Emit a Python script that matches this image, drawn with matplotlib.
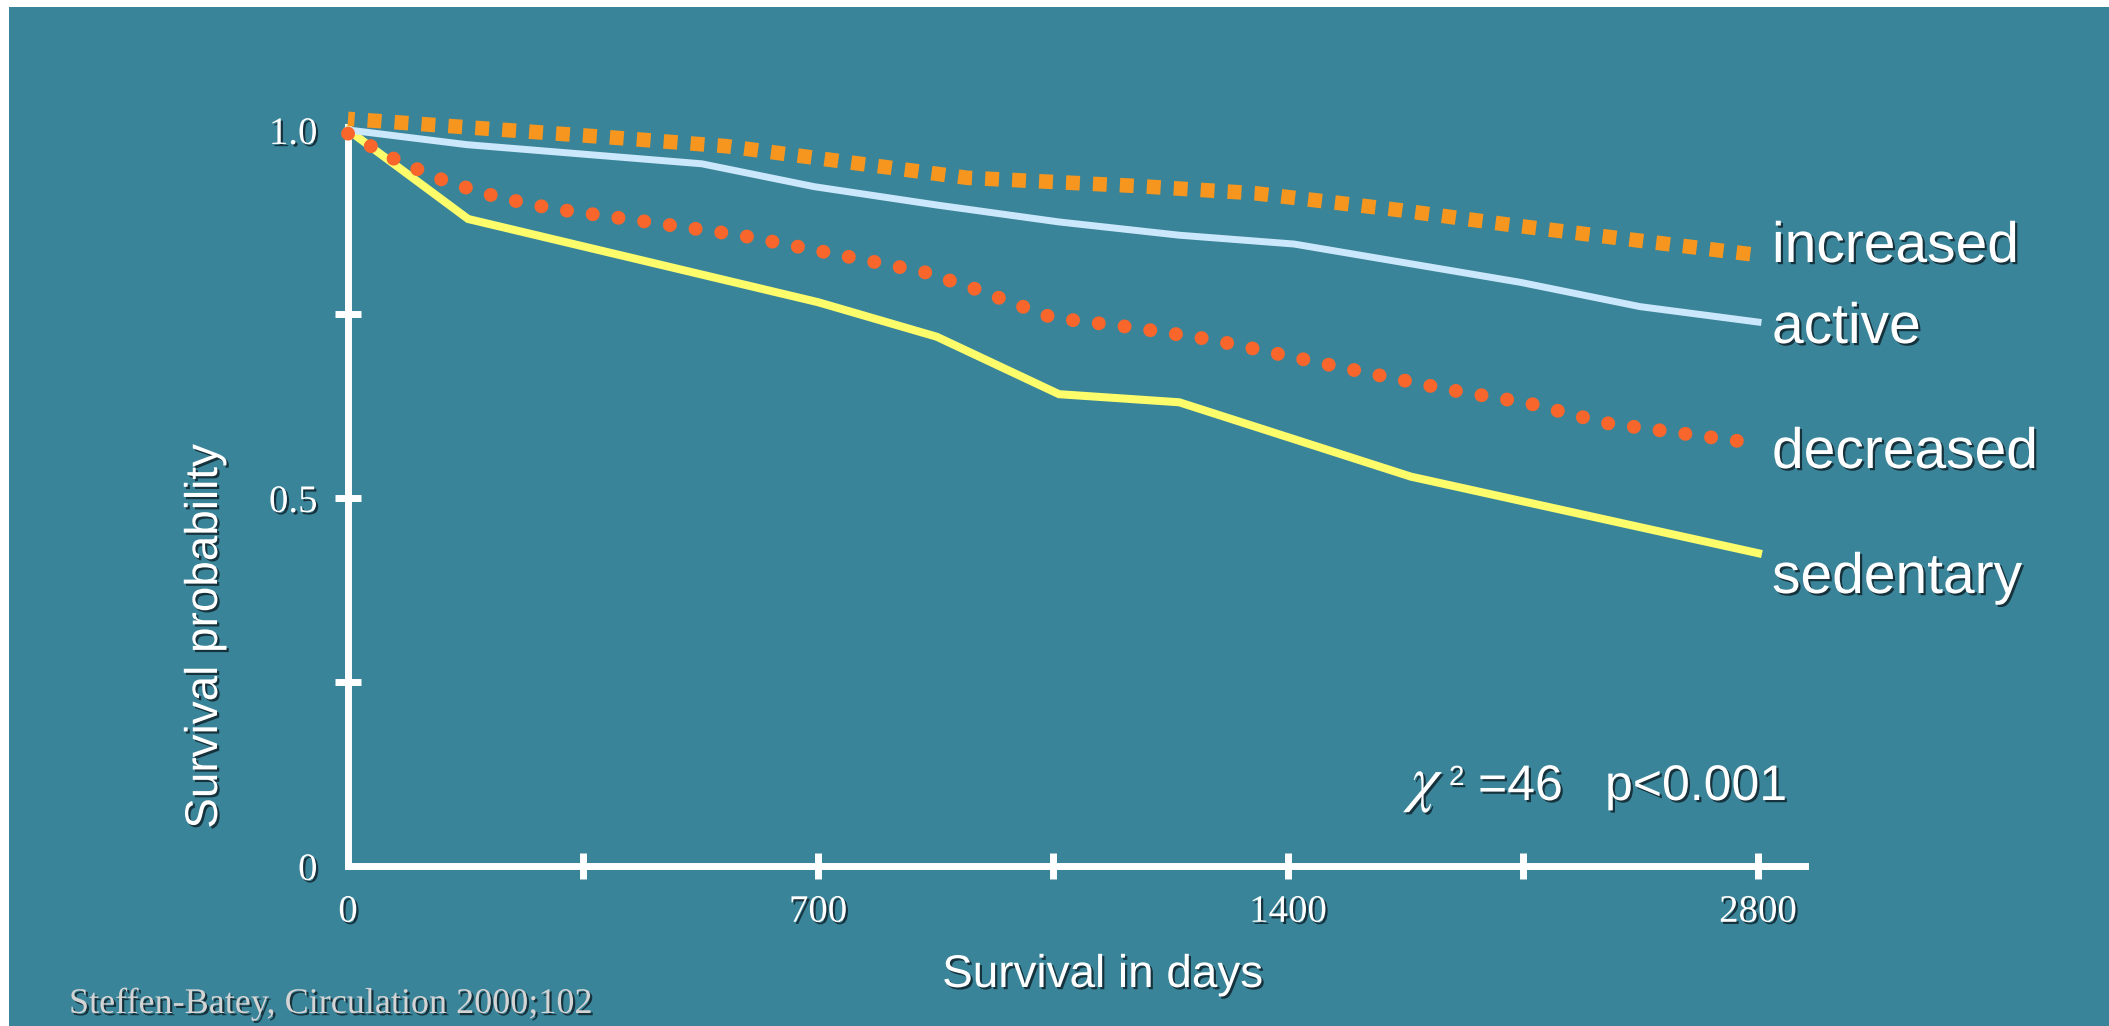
import matplotlib
matplotlib.use("Agg")
import matplotlib.pyplot as plt
import matplotlib.patheffects as pe
from matplotlib.patches import Rectangle

# ---- data: Kaplan-Meier style survival curves by physical-activity group ----
increased_days = [0, 390, 563, 922, 1172, 1351, 1567, 1731, 2100]
increased_surv = [1.015, 0.990, 0.978, 0.935, 0.924, 0.914, 0.891, 0.871, 0.830]

active_days = [0, 177, 527, 694, 877, 1059, 1238, 1409, 1746, 1924, 2100]
active_surv = [1.0, 0.980, 0.954, 0.923, 0.898, 0.875, 0.857, 0.845, 0.793, 0.760, 0.739]

decreased_days = [0, 74, 149, 226, 305, 424, 584, 777, 858, 934, 1049, 1166,
                  1287, 1404, 1518, 1640, 1757, 1872, 2090]
decreased_surv = [0.995, 0.958, 0.929, 0.908, 0.893, 0.878, 0.857, 0.822, 0.807,
                  0.784, 0.745, 0.732, 0.715, 0.692, 0.670, 0.647, 0.629, 0.602, 0.575]

sedentary_days = [0, 179, 700, 877, 1059, 1238, 1583, 2100]
sedentary_surv = [1.0, 0.879, 0.766, 0.719, 0.641, 0.630, 0.529, 0.425]

x_label_pos = [0, 700, 1400, 2100]
x_labels = ["0", "700", "1400", "2800"]
x_marks = [350, 700, 1050, 1400, 1750, 2100]
y_label_pos = [0, 0.5, 1.0]
y_labels = ["0", "0.5", "1.0"]
y_marks = [0.25, 0.5, 0.75]

series_names = ["increased", "active", "decreased", "sedentary"]

# ---- styling ----
BG = "#3a8499"
C_INC = "#f7961e"
C_ACT = "#cbe7fb"
C_DEC = "#f8662b"
C_SED = "#fdfd6c"

W, H = 2109, 1026


def fx(px):
    return px / W


def fy(py):
    return 1 - py / H


shadow = [pe.withSimplePatchShadow(offset=(1.6, -1.6), shadow_rgbFace="#10242c", alpha=0.85)]

fig = plt.figure(figsize=(W / 100, H / 100), dpi=100)
fig.patch.set_facecolor("white")
fig.patches.append(Rectangle((fx(9), 0), 1, 1 - 7 / H, transform=fig.transFigure,
                             facecolor=BG, edgecolor="none", zorder=-10))

ax = fig.add_axes([fx(348), fy(866), fx(1805) - fx(348), fy(127) - fy(866)])
ax.set_facecolor("none")
ax.set_xlim(0, 2170)
ax.set_ylim(0, 1.004)

for side in ("top", "right"):
    ax.spines[side].set_visible(False)
for side in ("left", "bottom"):
    ax.spines[side].set_color("white")
    ax.spines[side].set_linewidth(5)
    ax.spines[side].set_capstyle("projecting")

ax.xaxis.remove_overlapping_locs = False
ax.yaxis.remove_overlapping_locs = False
ax.set_xticks(x_label_pos)
ax.set_xticklabels(x_labels)
ax.set_xticks(x_marks, minor=True)
ax.set_yticks(y_label_pos)
ax.set_yticklabels(y_labels)
ax.set_yticks(y_marks, minor=True)
ax.tick_params(axis="x", which="major", length=0, pad=20)
ax.tick_params(axis="y", which="major", length=0, pad=22)
ax.tick_params(which="minor", direction="inout", length=19, width=5, color="white")
for lab in ax.get_xticklabels() + ax.get_yticklabels():
    lab.set_fontfamily("Liberation Serif")
    lab.set_fontsize(28)
    lab.set_color("white")
    lab.set_path_effects(shadow)

# ---- curves ----
ax.plot(sedentary_days, sedentary_surv, color=C_SED, lw=5.8,
        solid_joinstyle="miter", clip_on=False, zorder=3)
ax.plot(active_days, active_surv, color=C_ACT, lw=5.0,
        solid_joinstyle="miter", clip_on=False, zorder=3)
dec_line, = ax.plot(decreased_days, decreased_surv, color=C_DEC, lw=10,
                    clip_on=False, zorder=4)
dec_line.set_linestyle((0, (0.01, 1.86)))
dec_line.set_dash_capstyle("round")
inc_line, = ax.plot(increased_days, increased_surv, color=C_INC, lw=10.5,
                    clip_on=False, zorder=4)
inc_line.set_linestyle((0.5, (0.95, 0.9)))
inc_line.set_dash_capstyle("butt")

# ---- series labels ----
label_baselines = [262, 343, 468, 593]
for name, yb in zip(series_names, label_baselines):
    fig.text(fx(1772), fy(yb), name, family="Liberation Sans", fontsize=41,
             color="white", va="baseline", ha="left", path_effects=shadow)

# ---- statistic ----
fig.text(fx(1410), fy(800), r"$\chi$", math_fontfamily="stix", fontsize=46,
         color="white", va="baseline", ha="left", path_effects=shadow)
fig.text(fx(1449), fy(785), "2", family="Liberation Sans", fontsize=20,
         color="white", va="baseline", ha="left", path_effects=shadow)
fig.text(fx(1478), fy(800), "=46", family="Liberation Sans", fontsize=36,
         color="white", va="baseline", ha="left", path_effects=shadow)
fig.text(fx(1605), fy(800), "p<0.001", family="Liberation Sans", fontsize=36,
         color="white", va="baseline", ha="left", path_effects=shadow)

# ---- axis titles ----
fig.text(fx(1103), fy(987), "Survival in days", family="Liberation Sans",
         fontsize=33, color="white", va="baseline", ha="center", path_effects=shadow)
fig.text(fx(205), fy(636), "Survival probability", family="Liberation Sans",
         fontsize=33, color="white", va="center", ha="center", rotation=90,
         path_effects=shadow)

# ---- source ----
fig.text(fx(69), fy(1013), "Steffen-Batey, Circulation 2000;102",
         family="Liberation Serif", fontsize=26, color="#d4d4d4",
         va="baseline", ha="left", path_effects=shadow)

fig.savefig("out.png", dpi=100, facecolor=fig.get_facecolor())
